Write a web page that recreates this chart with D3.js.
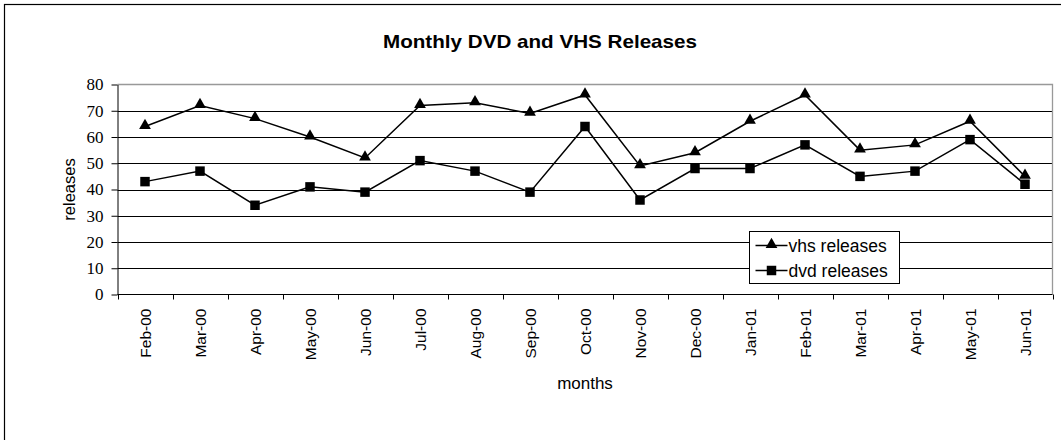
<!DOCTYPE html>
<html>
<head>
<meta charset="utf-8">
<script src="https://cdn.jsdelivr.net/npm/d3@7"></script>
<style>
  html, body { margin: 0; padding: 0; background: #fff; }
  svg { display: block; }
</style>
</head>
<body>
<svg id="chart" width="1061" height="440"></svg>
<script>
// Monthly release counts
const months = ["Feb-00","Mar-00","Apr-00","May-00","Jun-00","Jul-00","Aug-00","Sep-00",
                "Oct-00","Nov-00","Dec-00","Jan-01","Feb-01","Mar-01","Apr-01","May-01","Jun-01"];
const vhsReleases = [64, 72, 67, 60, 52, 72, 73, 69, 76, 49, 54, 66, 76, 55, 57, 66, 45];
const dvdReleases = [43, 47, 34, 41, 39, 51, 47, 39, 64, 36, 48, 48, 57, 45, 47, 59, 42];
const yTicks = [0, 10, 20, 30, 40, 50, 60, 70, 80];

const svg = d3.select("#chart");
const W = 1061, H = 440;
const plot = { left: 117.5, right: 1052.5, top: 84.5, bottom: 294.5 };
const SANS = "'Liberation Sans', Arial, sans-serif";
const SERIF = "'Liberation Serif', 'Times New Roman', serif";

// outer frame (right/bottom edges fall outside the canvas)
svg.append("rect")
  .attr("x", 4.5).attr("y", 4.5)
  .attr("width", W + 10).attr("height", H + 10)
  .attr("fill", "none").attr("stroke", "#000").attr("stroke-width", 1.2);

const x = d3.scaleBand().domain(months).range([plot.left, plot.right]);
const y = d3.scaleLinear().domain([0, 80]).range([plot.bottom, plot.top]);

// horizontal gridlines
svg.append("g").selectAll("line")
  .data(yTicks.filter(v => v > 0 && v < 80))
  .join("line")
  .attr("x1", plot.left).attr("x2", plot.right)
  .attr("y1", d => Math.round(y(d)) + 0.5).attr("y2", d => Math.round(y(d)) + 0.5)
  .attr("stroke", "#000").attr("stroke-width", 1);

// plot area border (top/right)
svg.append("path")
  .attr("d", `M${plot.left},${plot.top}H${plot.right}V${plot.bottom}`)
  .attr("fill", "none").attr("stroke", "#999").attr("stroke-width", 1.3);

// y axis
const yAxis = svg.append("g")
  .attr("transform", `translate(${plot.left},0)`)
  .call(d3.axisLeft(y).tickValues(yTicks).tickSize(6).tickPadding(8).tickSizeOuter(0));
yAxis.attr("font-family", null).attr("font-size", null);
yAxis.select(".domain").attr("stroke", "#000");
yAxis.selectAll(".tick line").attr("stroke", "#000");
yAxis.selectAll("text")
  .style("font-family", SERIF)
  .style("font-size", "17px").attr("fill", "#000");

// x axis: ticks sit at category boundaries
const boundaries = d3.range(months.length + 1).map(i => plot.left + i * x.step());
svg.append("line")
  .attr("x1", plot.left).attr("x2", plot.right)
  .attr("y1", plot.bottom).attr("y2", plot.bottom)
  .attr("stroke", "#000");
svg.append("g").selectAll("line")
  .data(boundaries)
  .join("line")
  .attr("x1", d => Math.round(d) + 0.5).attr("x2", d => Math.round(d) + 0.5)
  .attr("y1", plot.bottom).attr("y2", plot.bottom + 5)
  .attr("stroke", "#000");

svg.append("g").selectAll("text")
  .data(months)
  .join("text")
  .attr("transform", d => `translate(${x(d) + x.bandwidth() / 2 + 5.5},${plot.bottom + 14}) rotate(-90)`)
  .attr("text-anchor", "end")
  .style("font-family", SANS)
  .style("font-size", "15.5px")
  .attr("fill", "#000")
  .text(d => d);

// series lines
const line = d3.line()
  .x((d, i) => x(months[i]) + x.bandwidth() / 2)
  .y(d => y(d));

svg.append("path").datum(vhsReleases)
  .attr("d", line).attr("fill", "none").attr("stroke", "#000").attr("stroke-width", 1.5);
svg.append("path").datum(dvdReleases)
  .attr("d", line).attr("fill", "none").attr("stroke", "#000").attr("stroke-width", 1.5);

const tri = d3.symbol().type(d3.symbolTriangle).size(60);
const sq = d3.symbol().type(d3.symbolSquare).size(90);

svg.append("g").selectAll("path")
  .data(vhsReleases)
  .join("path")
  .attr("transform", (d, i) => `translate(${x(months[i]) + x.bandwidth() / 2},${y(d) - 1})`)
  .attr("d", tri).attr("fill", "#000");

svg.append("g").selectAll("path")
  .data(dvdReleases)
  .join("path")
  .attr("transform", (d, i) => `translate(${x(months[i]) + x.bandwidth() / 2},${y(d)})`)
  .attr("d", sq).attr("fill", "#000");

// title and axis titles
svg.append("text")
  .attr("x", 540).attr("y", 48)
  .attr("text-anchor", "middle")
  .attr("textLength", 314).attr("lengthAdjust", "spacingAndGlyphs")
  .style("font-family", SANS)
  .style("font-weight", "bold").style("font-size", "19px")
  .attr("fill", "#000")
  .text("Monthly DVD and VHS Releases");

svg.append("text")
  .attr("transform", `translate(75,${(plot.top + plot.bottom) / 2}) rotate(-90)`)
  .attr("text-anchor", "middle")
  .style("font-family", SANS)
  .style("font-size", "16.5px")
  .attr("fill", "#000")
  .text("releases");

svg.append("text")
  .attr("x", 585).attr("y", 389)
  .attr("text-anchor", "middle")
  .style("font-family", SANS)
  .style("font-size", "17px")
  .attr("fill", "#000")
  .text("months");

// legend
const legend = svg.append("g").attr("transform", "translate(749.5,231.5)");
legend.append("rect")
  .attr("width", 150).attr("height", 52)
  .attr("fill", "#fff").attr("stroke", "#000").attr("stroke-width", 1);
const entries = [
  { label: "vhs releases", symbol: tri, dy: -1 },
  { label: "dvd releases", symbol: sq, dy: 0 }
];
entries.forEach((e, i) => {
  const cy = 14 + i * 25;
  legend.append("line")
    .attr("x1", 6).attr("x2", 38).attr("y1", cy).attr("y2", cy)
    .attr("stroke", "#000").attr("stroke-width", 1.5);
  legend.append("path")
    .attr("transform", `translate(22,${cy + e.dy})`)
    .attr("d", e.symbol).attr("fill", "#000");
  legend.append("text")
    .attr("x", 39).attr("y", cy + 6)
    .style("font-family", SANS)
    .style("font-size", "17.5px")
    .attr("fill", "#000")
    .text(e.label);
});
</script>
</body>
</html>
